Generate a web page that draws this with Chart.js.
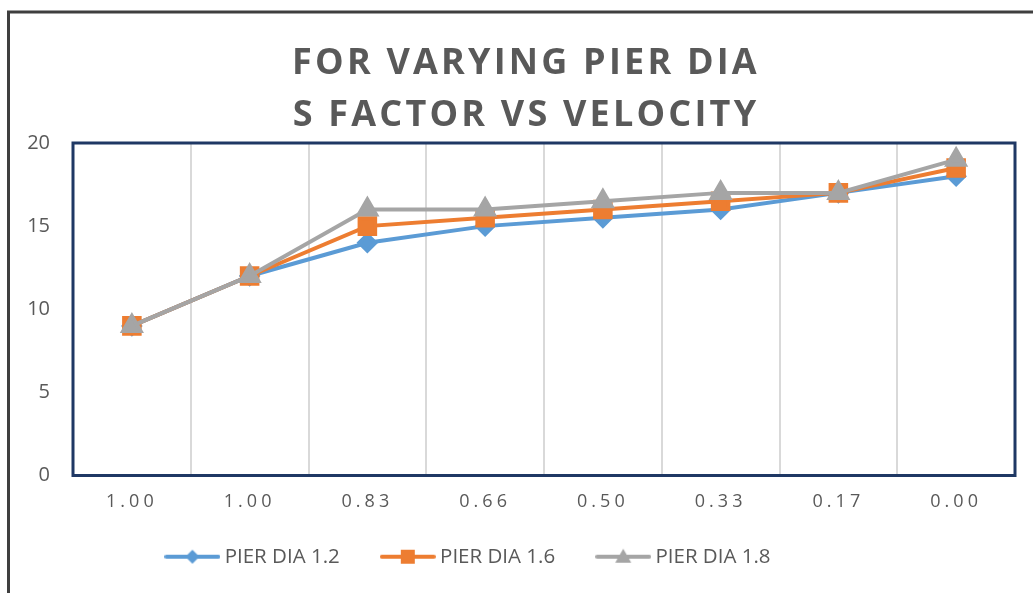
<!DOCTYPE html>
<html>
<head>
<meta charset="utf-8">
<script src="https://cdn.jsdelivr.net/npm/chart.js@4/dist/chart.umd.min.js"></script>
<style>
  html, body { margin: 0; padding: 0; background: #fff; }
  #wrap { width: 1033px; height: 593px; }
</style>
</head>
<body>
<div id="wrap"><canvas id="myChart" width="1033" height="593"></canvas></div>
<script>
// values
var velocity = ["1.00", "1.00", "0.83", "0.66", "0.50", "0.33", "0.17", "0.00"];
var pier12 = [9, 12, 14, 15, 15.5, 16, 17, 18];
var pier16 = [9, 12, 15, 15.5, 16, 16.5, 17, 18.5];
var pier18 = [9, 12, 16, 16, 16.5, 17, 17, 19];
var seriesNames = ["PIER DIA 1.2", "PIER DIA 1.6", "PIER DIA 1.8"];
var titleLines = ["FOR VARYING PIER DIA", "S FACTOR VS VELOCITY"];

var textGray = '#595959';

// little line + marker picture for the legend
function legendIcon(color, shape) {
    var c = document.createElement('canvas');
    c.width = 56; c.height = 20;
    var g = c.getContext('2d');
    g.strokeStyle = color;
    g.fillStyle = color;
    g.lineWidth = 4;
    g.lineCap = 'round';
    g.beginPath(); g.moveTo(2, 10); g.lineTo(54, 10); g.stroke();
    g.beginPath();
    if (shape === 'diamond') {
        g.moveTo(28, 3); g.lineTo(35, 10); g.lineTo(28, 17); g.lineTo(21, 10);
    } else if (shape === 'square') {
        g.rect(21, 3, 14, 14);
    } else {
        g.moveTo(28, 2); g.lineTo(36, 16); g.lineTo(20, 16);
    }
    g.closePath(); g.fill();
    return c;
}

var icons = [
    legendIcon('#5B9BD5', 'diamond'),
    legendIcon('#ED7D31', 'square'),
    legendIcon('#A5A5A5', 'triangle')
];

var framePlugin = {
    id: 'frame',
    afterLayout: function(chart) {
        // legend sits a bit left of centre and higher in the original
        var lg = chart.legend;
        lg.left -= 37;
        lg.right -= 37;
        lg.top -= 15;
        lg.bottom -= 15;
    },
    beforeDraw: function(chart) {
        var ctx = chart.ctx;
        ctx.save();
        ctx.strokeStyle = '#3f3f3f';
        ctx.lineWidth = 3;
        ctx.beginPath();
        ctx.moveTo(8.5, 593); ctx.lineTo(8.5, 12); ctx.lineTo(1033, 12);
        ctx.stroke();
        ctx.restore();

        // spaced-out x labels
        var xs = chart.scales.x;
        if (xs && !xs._spaced) {
            var orig = xs.drawLabels;
            xs.drawLabels = function(area) {
                this.ctx.save();
                this.ctx.letterSpacing = '4px';
                orig.call(this, area);
                this.ctx.restore();
            };
            xs._spaced = true;
        }
    },
    beforeDatasetsDraw: function(chart) {
        var a = chart.chartArea, ctx = chart.ctx;
        ctx.save();
        ctx.strokeStyle = '#1F3864';
        ctx.lineWidth = 3;
        ctx.strokeRect(a.left, a.top, a.right - a.left, a.bottom - a.top);
        ctx.restore();
    },
    afterDraw: function(chart) {
        var ctx = chart.ctx;
        ctx.save();
        ctx.fillStyle = textGray;
        ctx.font = 'bold 36px "Open Sans"';
        ctx.letterSpacing = '3.2px';
        ctx.textAlign = 'center';
        ctx.textBaseline = 'alphabetic';
        ctx.fillText(titleLines[0], 526, 74);
        ctx.fillText(titleLines[1], 526, 126);
        ctx.restore();
    }
};

var ctx = document.getElementById("myChart").getContext('2d');
var myChart = new Chart(ctx, {
    type: 'line',
    data: {
        labels: velocity,
        datasets: [{
            label: seriesNames[0],
            data: pier12,
            borderColor: '#5B9BD5',
            backgroundColor: '#5B9BD5',
            pointStyle: 'rectRot',
            pointRadius: 8,
            pointHoverRadius: 8,
            borderWidth: 4,
            order: 2
        }, {
            label: seriesNames[1],
            data: pier16,
            borderColor: '#ED7D31',
            backgroundColor: '#ED7D31',
            pointStyle: 'rect',
            pointRadius: 11,
            pointHoverRadius: 11,
            borderWidth: 4,
            order: 1
        }, {
            label: seriesNames[2],
            data: pier18,
            borderColor: '#A5A5A5',
            backgroundColor: '#A5A5A5',
            pointStyle: 'triangle',
            pointRadius: 10,
            pointHoverRadius: 10,
            borderWidth: 4,
            order: 0
        }]
    },
    options: {
        responsive: false,
        maintainAspectRatio: false,
        animation: false,
        layout: {
            padding: { top: 143, left: 0, right: 18, bottom: 1 }
        },
        elements: {
            line: { tension: 0 },
            point: { borderWidth: 1 }
        },
        scales: {
            x: {
                offset: true,
                grid: { offset: true, color: '#D9D9D9', lineWidth: 2, drawTicks: false },
                border: { display: false },
                ticks: {
                    color: textGray,
                    font: { family: 'Open Sans', size: 18 },
                    padding: 16,
                    maxRotation: 0,
                    autoSkip: false
                },
                afterFit: function(scale) { scale.height = 40; }
            },
            y: {
                min: 0,
                max: 20,
                grid: { display: false, drawTicks: false },
                border: { display: false },
                ticks: {
                    stepSize: 5,
                    color: textGray,
                    font: { family: 'Open Sans', size: 20 },
                    padding: 23
                },
                afterFit: function(scale) { scale.width = 73; }
            }
        },
        plugins: {
            title: { display: false },
            tooltip: { enabled: false },
            legend: {
                position: 'bottom',
                labels: {
                    usePointStyle: true,
                    pointStyleWidth: 44,
                    padding: 46,
                    color: textGray,
                    font: { family: 'Open Sans', size: 20.5 },
                    generateLabels: function(chart) {
                        return chart.data.datasets.map(function(ds, i) {
                            return {
                                text: ds.label,
                                pointStyle: icons[i],
                                fillStyle: ds.borderColor,
                                strokeStyle: ds.borderColor,
                                lineWidth: 0,
                                fontColor: textGray,
                                hidden: false,
                                datasetIndex: i
                            };
                        });
                    }
                }
            }
        }
    },
    plugins: [framePlugin]
});
</script>
</body>
</html>
